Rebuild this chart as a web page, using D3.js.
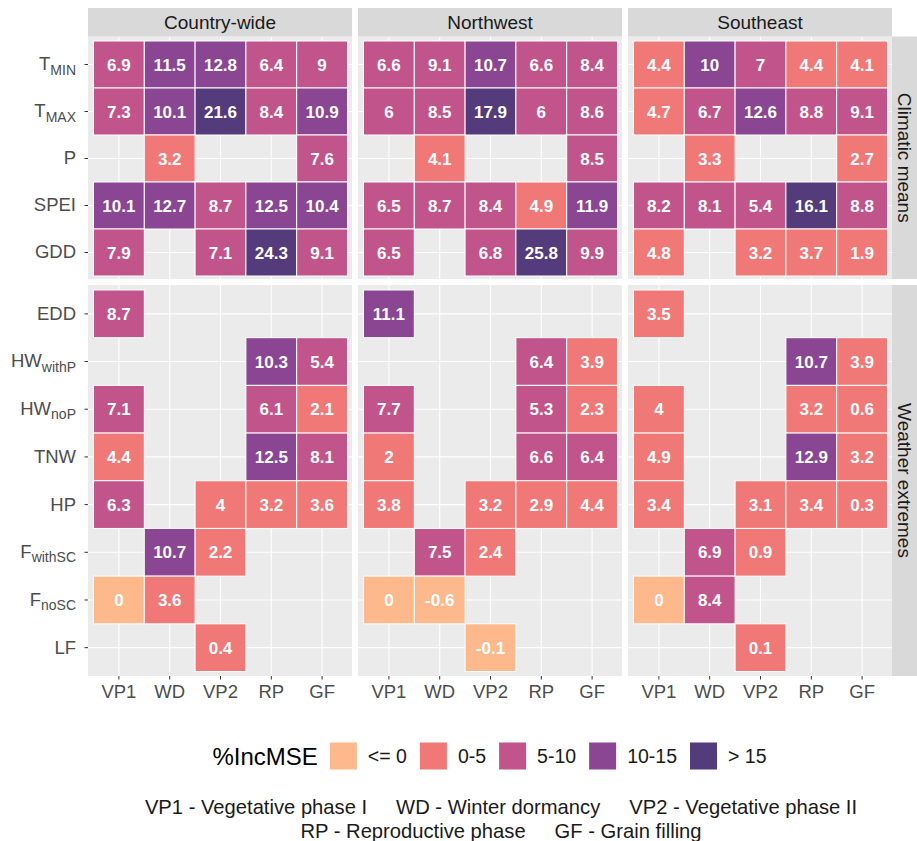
<!DOCTYPE html>
<html>
<head>
<meta charset="utf-8">
<script src="https://cdn.jsdelivr.net/npm/d3@7"></script>
<style>
  body { margin: 0; background: #fff; }
  text { font-family: "Liberation Sans", Arial, sans-serif; }
</style>
</head>
<body>
<div id="chart"></div>
<script>
// categories
var phases = ["VP1", "WD", "VP2", "RP", "GF"];
var regions = ["Country-wide", "Northwest", "Southeast"];
var groups = ["Climatic means", "Weather extremes"];
var climaticVars = ["TMIN", "TMAX", "P", "SPEI", "GDD"];
var extremeVars = ["EDD", "HWwithP", "HWnoP", "TNW", "HP", "FwithSC", "FnoSC", "LF"];
// axis label text: [main, subscript]
var varLabels = {
  TMIN: ["T", "MIN"], TMAX: ["T", "MAX"], P: ["P", ""], SPEI: ["SPEI", ""], GDD: ["GDD", ""],
  EDD: ["EDD", ""], HWwithP: ["HW", "withP"], HWnoP: ["HW", "noP"], TNW: ["TNW", ""],
  HP: ["HP", ""], FwithSC: ["F", "withSC"], FnoSC: ["F", "noSC"], LF: ["LF", ""]
};

// %IncMSE values, rows = climaticVars then extremeVars, columns = phases
var countryWide = [
  [6.9, 11.5, 12.8, 6.4, 9],
  [7.3, 10.1, 21.6, 8.4, 10.9],
  [null, 3.2, null, null, 7.6],
  [10.1, 12.7, 8.7, 12.5, 10.4],
  [7.9, null, 7.1, 24.3, 9.1],
  [8.7, null, null, null, null],
  [null, null, null, 10.3, 5.4],
  [7.1, null, null, 6.1, 2.1],
  [4.4, null, null, 12.5, 8.1],
  [6.3, null, 4, 3.2, 3.6],
  [null, 10.7, 2.2, null, null],
  [0, 3.6, null, null, null],
  [null, null, 0.4, null, null]
];
var northwest = [
  [6.6, 9.1, 10.7, 6.6, 8.4],
  [6, 8.5, 17.9, 6, 8.6],
  [null, 4.1, null, null, 8.5],
  [6.5, 8.7, 8.4, 4.9, 11.9],
  [6.5, null, 6.8, 25.8, 9.9],
  [11.1, null, null, null, null],
  [null, null, null, 6.4, 3.9],
  [7.7, null, null, 5.3, 2.3],
  [2, null, null, 6.6, 6.4],
  [3.8, null, 3.2, 2.9, 4.4],
  [null, 7.5, 2.4, null, null],
  [0, -0.6, null, null, null],
  [null, null, -0.1, null, null]
];
var southeast = [
  [4.4, 10, 7, 4.4, 4.1],
  [4.7, 6.7, 12.6, 8.8, 9.1],
  [null, 3.3, null, null, 2.7],
  [8.2, 8.1, 5.4, 16.1, 8.8],
  [4.8, null, 3.2, 3.7, 1.9],
  [3.5, null, null, null, null],
  [null, null, null, 10.7, 3.9],
  [4, null, null, 3.2, 0.6],
  [4.9, null, null, 12.9, 3.2],
  [3.4, null, 3.1, 3.4, 0.3],
  [null, 6.9, 0.9, null, null],
  [0, 8.4, null, null, null],
  [null, null, 0.1, null, null]
];

// legend bins
var binLabels = ["<= 0", "0-5", "5-10", "10-15", "> 15"];
var binColors = ["#FDB98B", "#F07876", "#C1548A", "#8A4593", "#543B7B"];
var binBreaks = [5, 10, 15];

var captionLines = [
  ["VP1 - Vegetative phase I", "WD - Winter dormancy", "VP2 - Vegetative phase II"],
  ["RP - Reproductive phase", "GF - Grain filling"]
];

var regionData = [countryWide, northwest, southeast];
var groupVars = [climaticVars, extremeVars];

function binOf(v) {
  if (v <= 0) return 0;
  return 1 + d3.bisectRight(binBreaks, v);
}
var color = d3.scaleOrdinal().domain(d3.range(binLabels.length)).range(binColors);

// layout
var W = 917, H = 841;
var panelX = [88, 358, 628], panelW = 264;
var panelY = [[36.5, 279], [285, 676]];
var bandY = [[41, 276], [290, 671.5]];

var svg = d3.select("#chart").append("svg")
  .attr("width", W)
  .attr("height", H);

// long format table built from the arrays
var cells = [];
regions.forEach(function(reg, ri) {
  var rowIdx = 0;
  groups.forEach(function(g, gi) {
    groupVars[gi].forEach(function(v) {
      regionData[ri][rowIdx].forEach(function(val, pi) {
        if (val !== null) cells.push({region: ri, group: gi, variable: v, phase: phases[pi], value: val});
      });
      rowIdx++;
    });
  });
});

var yScales = groups.map(function(g, gi) {
  return d3.scaleBand().domain(groupVars[gi]).range(bandY[gi]);
});

regions.forEach(function(reg, ri) {
  var x0 = panelX[ri];
  var x = d3.scaleBand().domain(phases).range([x0 + 5.5, x0 + panelW - 4.5]);

  groups.forEach(function(g, gi) {
    var y = yScales[gi];
    var py0 = panelY[gi][0], py1 = panelY[gi][1];
    var panel = svg.append("g").attr("class", "panel");

    panel.append("rect")
      .attr("x", x0).attr("y", py0)
      .attr("width", panelW).attr("height", py1 - py0)
      .attr("fill", "#EBEBEB");

    // grid lines
    panel.selectAll(".vgrid").data(phases).join("line")
      .attr("x1", d => x(d) + x.bandwidth() / 2).attr("x2", d => x(d) + x.bandwidth() / 2)
      .attr("y1", py0).attr("y2", py1)
      .attr("stroke", "#fff").attr("stroke-width", 1.1);
    panel.selectAll(".hgrid").data(groupVars[gi]).join("line")
      .attr("y1", d => y(d) + y.bandwidth() / 2).attr("y2", d => y(d) + y.bandwidth() / 2)
      .attr("x1", x0).attr("x2", x0 + panelW)
      .attr("stroke", "#fff").attr("stroke-width", 1.1);

    var sub = cells.filter(c => c.region === ri && c.group === gi);
    panel.selectAll(".tile").data(sub).join("rect")
      .attr("x", d => x(d.phase))
      .attr("y", d => y(d.variable))
      .attr("width", x.bandwidth())
      .attr("height", y.bandwidth())
      .attr("fill", d => color(binOf(d.value)))
      .attr("stroke", "#fff")
      .attr("stroke-width", 1);

    panel.selectAll(".lab").data(sub).join("text")
      .attr("x", d => x(d.phase) + x.bandwidth() / 2)
      .attr("y", d => y(d.variable) + y.bandwidth() / 2)
      .attr("dy", "0.36em")
      .attr("text-anchor", "middle")
      .attr("fill", "#fff")
      .style("font-weight", "bold")
      .style("font-size", "17px")
      .text(d => String(d.value));

    // left axis only on first column
    if (ri === 0) {
      var ay = svg.append("g")
        .attr("transform", "translate(" + x0 + ",0)")
        .call(d3.axisLeft(y).tickSize(3.5).tickPadding(8.5));
      ay.select(".domain").remove();
      ay.selectAll(".tick line").attr("stroke", "#333");
      ay.selectAll(".tick text").each(function(d) {
        var t = d3.select(this).text("")
          .attr("fill", "#4D4D4D")
          .style("font-size", "18.5px");
        var parts = varLabels[d];
        t.append("tspan").text(parts[0]);
        if (parts[1]) {
          t.append("tspan").attr("dy", "0.3em").style("font-size", "14px").text(parts[1]);
        }
      });
    }
  });

  // bottom axis
  var ax = svg.append("g")
    .attr("transform", "translate(0," + panelY[1][1] + ")")
    .call(d3.axisBottom(x).tickSize(3.5).tickPadding(5));
  ax.select(".domain").remove();
  ax.selectAll(".tick line").attr("stroke", "#333");
  ax.selectAll(".tick text").attr("fill", "#4D4D4D").style("font-size", "18.5px");

  // top strip
  svg.append("rect")
    .attr("x", x0).attr("y", 8)
    .attr("width", panelW).attr("height", 28.5)
    .attr("fill", "#D9D9D9");
  svg.append("text")
    .attr("x", x0 + panelW / 2).attr("y", 22)
    .attr("dy", "0.36em")
    .attr("text-anchor", "middle")
    .attr("fill", "#1A1A1A")
    .style("font-size", "19px")
    .text(reg);
});

// right strips
groups.forEach(function(g, gi) {
  var py0 = panelY[gi][0], py1 = panelY[gi][1];
  svg.append("rect")
    .attr("x", 892).attr("y", py0)
    .attr("width", 30).attr("height", py1 - py0)
    .attr("fill", "#D9D9D9");
  svg.append("text")
    .attr("transform", "translate(905," + ((py0 + py1) / 2) + ") rotate(90)")
    .attr("dy", "0.36em")
    .attr("text-anchor", "middle")
    .attr("fill", "#1A1A1A")
    .style("font-size", "19px")
    .text(g);
});

// legend
var legend = svg.append("g");
legend.append("text")
  .attr("x", 0).attr("y", 0)
  .attr("dy", "0.36em")
  .attr("fill", "#000")
  .style("font-size", "24px")
  .text("%IncMSE");
var lx = legend.select("text").node().getComputedTextLength() + 12;
binLabels.forEach(function(lab, i) {
  legend.append("rect")
    .attr("x", lx).attr("y", -13.5)
    .attr("width", 27).attr("height", 27)
    .attr("fill", binColors[i]);
  var t = legend.append("text")
    .attr("x", lx + 27 + 11).attr("y", 0)
    .attr("dy", "0.36em")
    .attr("fill", "#1A1A1A")
    .style("font-size", "19.5px")
    .text(lab);
  lx = lx + 27 + 11 + t.node().getComputedTextLength() + 13;
});
var lw = lx - 13;
legend.attr("transform", "translate(" + (489.5 - lw / 2) + ",756)");

// caption
var capY = [807, 831];
captionLines.forEach(function(pieces, li) {
  var g = svg.append("g");
  var cx = 0;
  pieces.forEach(function(p, i) {
    var t = g.append("text")
      .attr("x", cx).attr("y", 0)
      .attr("dy", "0.36em")
      .attr("fill", "#1A1A1A")
      .style("font-size", "20.2px")
      .text(p);
    cx += t.node().getComputedTextLength() + (i < pieces.length - 1 ? 29 : 0);
  });
  g.attr("transform", "translate(" + (501 - cx / 2) + "," + capY[li] + ")");
});
</script>
</body>
</html>
